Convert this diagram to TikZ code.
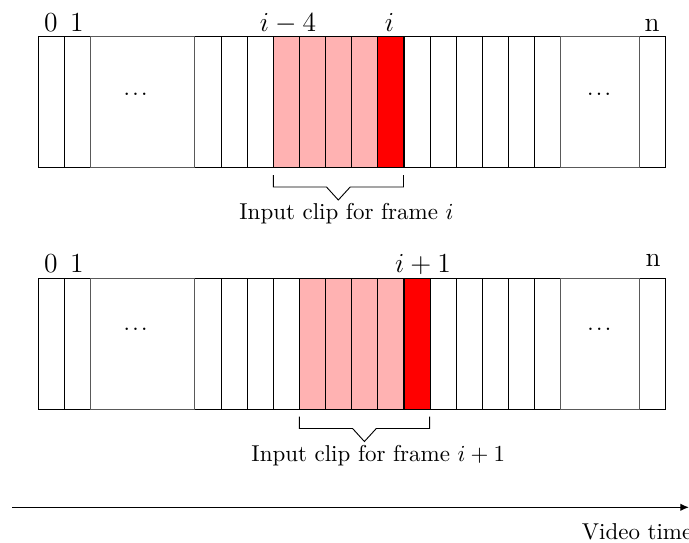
\documentclass[tikz,border=0pt]{standalone}
\usetikzlibrary{arrows.meta}

% one coordinate unit = 1/26.14 of a frame width (0.4cm); y grows downwards
\tikzset{
  x=0.015302cm, y=-0.015302cm,
  framebox/.style={draw=black, minimum width=0.4cm, minimum height=2cm,
    inner sep=0pt, outer sep=0pt, anchor=north west},
  gapbox/.style={draw=black!65, minimum height=2cm,
    inner sep=0pt, outer sep=0pt, anchor=north west},
  ctxframe/.style={framebox, fill=red!30},
  curframe/.style={framebox, fill=red},
  idx/.style={inner sep=0pt, anchor=base, font=\large},
  dotsnode/.style={inner sep=0pt},
  caption/.style={inner sep=0pt, anchor=base},
  bracket/.style={draw=black, line join=miter},
  timeaxis/.style={draw=black, semithick, -{Latex[length=3.8pt,width=3.3pt]}}
}
\newcommand{\framedots}{.\kern1.05pt.\kern1.05pt.}

\begin{document}
\begin{tikzpicture}
\useasboundingbox (0,0) rectangle (689,543);

% ---------------- first row: clip for frame i ----------------
\foreach \k in {0,1,6,7,8,14,15,16,17,18,19,23}
  \node[framebox] (a\k) at ({38+26.14*\k},36.9) {};
\foreach \k in {9,10,11,12}
  \node[ctxframe] (a\k) at ({38+26.14*\k},36.9) {};
\node[curframe] (a13) at ({38+26.14*13},36.9) {};
\node[gapbox, minimum width=1.6cm] (agapl) at ({38+26.14*2},36.9) {};
\node[gapbox, minimum width=1.2cm] (agapr) at ({38+26.14*20},36.9) {};
\node[dotsnode] (adotsl) at (135.5,94.5) {\framedots};
\node[dotsnode] (adotsr) at (599,94.5) {\framedots};

\node[idx] (al0) at (51,31.5) {0};
\node[idx] (al1) at (77,31.5) {1};
\node[idx] (alim4) at (288,31.5) {$i-4$};
\node[idx] (ali) at (389.5,31.5) {$i$};
\node[idx] (aln) at (652,31.5) {n};

\draw[bracket] (273.3,175) -- (273.3,187) -- (326.5,187) -- (338.3,200)
  -- (350.2,187) -- (403.5,187) -- (403.5,175);
\node[caption] (acap) at (346.5,219.3) {Input clip for frame $i$};

% ---------------- second row: clip for frame i+1 ----------------
\foreach \k in {0,1,6,7,8,9,15,16,17,18,19,23}
  \node[framebox] (b\k) at ({38+26.14*\k},278.4) {};
\foreach \k in {10,11,12,13}
  \node[ctxframe] (b\k) at ({38+26.14*\k},278.4) {};
\node[curframe] (b14) at ({38+26.14*14},278.4) {};
\node[gapbox, minimum width=1.6cm] (bgapl) at ({38+26.14*2},278.4) {};
\node[gapbox, minimum width=1.2cm] (bgapr) at ({38+26.14*20},278.4) {};
\node[dotsnode] (bdotsl) at (135.5,329.3) {\framedots};
\node[dotsnode] (bdotsr) at (599.3,329.3) {\framedots};

\node[idx] (bl0) at (51,272.7) {0};
\node[idx] (bl1) at (77,272.7) {1};
\node[idx] (blip1) at (423,272.7) {$i+1$};
\node[idx] (bln) at (653,266.7) {n};

\draw[bracket] (299.4,416.5) -- (299.4,428.5) -- (352.6,428.5) -- (364.4,441.5)
  -- (376.3,428.5) -- (429.6,428.5) -- (429.6,416.5);
\node[caption] (bcap) at (378.3,461.7) {Input clip for frame $i+1$};

% ---------------- time axis ----------------
\coordinate (tstart) at (12,507.3);
\coordinate (tend) at (689,507.3);
\draw[timeaxis] (tstart) -- (tend);
\node[caption, anchor=base west] (tlabel) at (581.5,539.3) {Video time};
\end{tikzpicture}
\end{document}
